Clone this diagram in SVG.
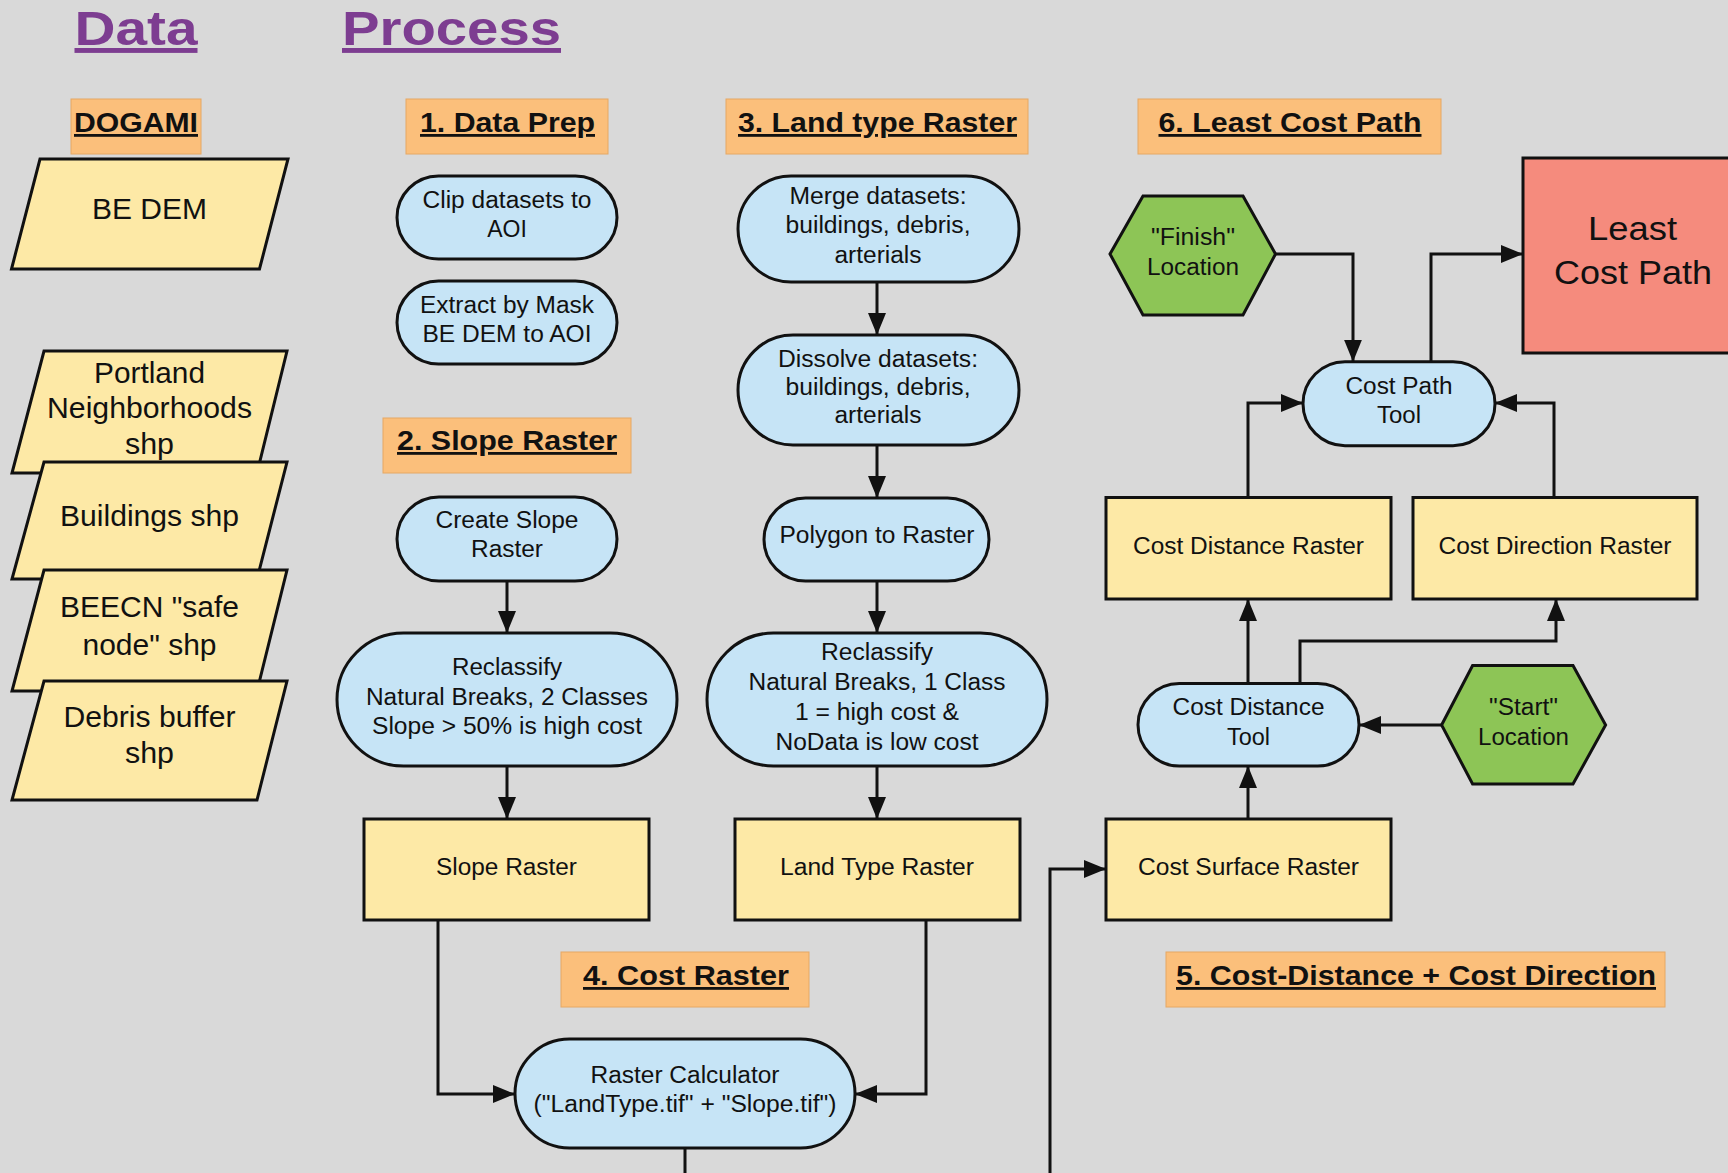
<svg xmlns="http://www.w3.org/2000/svg" width="1728" height="1173" viewBox="0 0 1728 1173">
<style>
.hdr{fill:#fbbf7b;stroke:#e6a864;stroke-width:1}
.data{fill:#fde9a6;stroke:#111;stroke-width:3}
.proc{fill:#c6e4f6;stroke:#111;stroke-width:3}
.hex{fill:#8dc556;stroke:#111;stroke-width:3}
.out{fill:#f58b7d;stroke:#111;stroke-width:3}
text{font-family:"Liberation Sans",Arial,sans-serif;fill:#111;text-anchor:middle}
.title{font-size:49px;font-weight:bold;fill:#7d3d91;text-decoration:underline}
.th{font-size:28px;font-weight:bold;text-decoration:underline}
.t{font-size:23px}
.td{font-size:29px}
.tb{font-size:33px}
.conn path{fill:none;stroke:#111;stroke-width:3;marker-end:url(#arr)}
</style>
<defs>
<marker id="arr" markerUnits="userSpaceOnUse" markerWidth="22" markerHeight="18" refX="22" refY="9" orient="auto">
<path d="M0,0 L22,9 L0,18 z" fill="#111"/>
</marker>
</defs>
<rect width="1728" height="1173" fill="#d9d9d9"/>

<g id="titles">
<text class="title" x="136" y="45" textLength="123" lengthAdjust="spacingAndGlyphs">Data</text>
<text class="title" x="451.5" y="45" textLength="219" lengthAdjust="spacingAndGlyphs">Process</text>
</g>

<g id="hdr-dogami"><rect class="hdr" x="71" y="99" width="130" height="55"/><text class="th" x="136" y="132" textLength="124" lengthAdjust="spacingAndGlyphs">DOGAMI</text></g>
<g id="hdr-1"><rect class="hdr" x="406" y="99" width="202" height="55"/><text class="th" x="507.5" y="132" textLength="175" lengthAdjust="spacingAndGlyphs">1. Data Prep</text></g>
<g id="hdr-3"><rect class="hdr" x="726" y="99" width="302" height="55"/><text class="th" x="877.5" y="132" textLength="279" lengthAdjust="spacingAndGlyphs">3. Land type Raster</text></g>
<g id="hdr-6"><rect class="hdr" x="1138" y="99" width="303" height="55"/><text class="th" x="1290" y="132" textLength="263" lengthAdjust="spacingAndGlyphs">6. Least Cost Path</text></g>
<g id="hdr-2"><rect class="hdr" x="383" y="418" width="248" height="55"/><text class="th" x="507" y="450" textLength="220" lengthAdjust="spacingAndGlyphs">2. Slope Raster</text></g>
<g id="hdr-4"><rect class="hdr" x="561" y="952" width="248" height="55"/><text class="th" x="686" y="985" textLength="206" lengthAdjust="spacingAndGlyphs">4. Cost Raster</text></g>
<g id="hdr-5"><rect class="hdr" x="1166" y="952" width="499" height="55"/><text class="th" x="1416" y="985" textLength="480" lengthAdjust="spacingAndGlyphs">5. Cost-Distance + Cost Direction</text></g>

<g id="be-dem"><polygon class="data" points="40,159 288,159 259.5,269 11.5,269"/><text class="td" x="149.5" y="219" textLength="115" lengthAdjust="spacingAndGlyphs">BE DEM</text></g>
<g id="portland"><polygon class="data" points="44,351 287,351 257,473 12,473"/><text class="td" x="149.5" y="383" textLength="111" lengthAdjust="spacingAndGlyphs">Portland</text><text class="td" x="149.5" y="418" textLength="205" lengthAdjust="spacingAndGlyphs">Neighborhoods</text><text class="td" x="149.5" y="454" textLength="49" lengthAdjust="spacingAndGlyphs">shp</text></g>
<g id="buildings"><polygon class="data" points="44,462 287,462 257,579 12,579"/><text class="td" x="149.5" y="526" textLength="179" lengthAdjust="spacingAndGlyphs">Buildings shp</text></g>
<g id="beecn"><polygon class="data" points="44,570 287,570 257,691 12,691"/><text class="td" x="149.5" y="617" textLength="179" lengthAdjust="spacingAndGlyphs">BEECN "safe</text><text class="td" x="149.5" y="655" textLength="134" lengthAdjust="spacingAndGlyphs">node" shp</text></g>
<g id="debris"><polygon class="data" points="44,681 287,681 257,800 12,800"/><text class="td" x="149.5" y="727" textLength="172" lengthAdjust="spacingAndGlyphs">Debris buffer</text><text class="td" x="149.5" y="763" textLength="49" lengthAdjust="spacingAndGlyphs">shp</text></g>

<g id="clip"><rect class="proc" x="397" y="176" width="220" height="83" rx="41.5"/><text class="t" x="507" y="208" textLength="169" lengthAdjust="spacingAndGlyphs">Clip datasets to</text><text class="t" x="507" y="237">AOI</text></g>
<g id="extract"><rect class="proc" x="397" y="281" width="220" height="83" rx="41.5"/><text class="t" x="507" y="313" textLength="174" lengthAdjust="spacingAndGlyphs">Extract by Mask</text><text class="t" x="507" y="342" textLength="169" lengthAdjust="spacingAndGlyphs">BE DEM to AOI</text></g>
<g id="create-slope"><rect class="proc" x="397" y="497" width="220" height="84" rx="42"/><text class="t" x="507" y="528" textLength="143" lengthAdjust="spacingAndGlyphs">Create Slope</text><text class="t" x="507" y="557" textLength="72" lengthAdjust="spacingAndGlyphs">Raster</text></g>
<g id="reclass-slope"><rect class="proc" x="337" y="633" width="340" height="133" rx="66.5"/><text class="t" x="507" y="675" textLength="110" lengthAdjust="spacingAndGlyphs">Reclassify</text><text class="t" x="507" y="705" textLength="282" lengthAdjust="spacingAndGlyphs">Natural Breaks, 2 Classes</text><text class="t" x="507" y="734" textLength="270" lengthAdjust="spacingAndGlyphs">Slope &gt; 50% is high cost</text></g>
<g id="slope-raster"><rect class="data" x="364" y="819" width="285" height="101"/><text class="t" x="506.5" y="875" textLength="141" lengthAdjust="spacingAndGlyphs">Slope Raster</text></g>

<g id="merge"><rect class="proc" x="738" y="176" width="281" height="106" rx="53"/><text class="t" x="878" y="204" textLength="177" lengthAdjust="spacingAndGlyphs">Merge datasets:</text><text class="t" x="878" y="233" textLength="185" lengthAdjust="spacingAndGlyphs">buildings, debris,</text><text class="t" x="878" y="263" textLength="87" lengthAdjust="spacingAndGlyphs">arterials</text></g>
<g id="dissolve"><rect class="proc" x="738" y="335" width="281" height="110" rx="55"/><text class="t" x="878" y="367" textLength="200" lengthAdjust="spacingAndGlyphs">Dissolve datasets:</text><text class="t" x="878" y="395" textLength="185" lengthAdjust="spacingAndGlyphs">buildings, debris,</text><text class="t" x="878" y="423" textLength="87" lengthAdjust="spacingAndGlyphs">arterials</text></g>
<g id="polygon"><rect class="proc" x="764" y="498" width="225" height="83" rx="41.5"/><text class="t" x="877" y="543" textLength="195" lengthAdjust="spacingAndGlyphs">Polygon to Raster</text></g>
<g id="reclass-land"><rect class="proc" x="707" y="633" width="340" height="133" rx="66.5"/><text class="t" x="877" y="660" textLength="112" lengthAdjust="spacingAndGlyphs">Reclassify</text><text class="t" x="877" y="690" textLength="257" lengthAdjust="spacingAndGlyphs">Natural Breaks, 1 Class</text><text class="t" x="877" y="720" textLength="164" lengthAdjust="spacingAndGlyphs">1 = high cost &amp;</text><text class="t" x="877" y="750" textLength="203" lengthAdjust="spacingAndGlyphs">NoData is low cost</text></g>
<g id="land-raster"><rect class="data" x="735" y="819" width="285" height="101"/><text class="t" x="877" y="875" textLength="194" lengthAdjust="spacingAndGlyphs">Land Type Raster</text></g>

<g id="raster-calc"><rect class="proc" x="515" y="1039" width="340" height="109" rx="54.5"/><text class="t" x="685" y="1083" textLength="189" lengthAdjust="spacingAndGlyphs">Raster Calculator</text><text class="t" x="685" y="1112" textLength="303" lengthAdjust="spacingAndGlyphs">("LandType.tif" + "Slope.tif")</text></g>

<g id="cost-surface"><rect class="data" x="1106" y="819" width="285" height="101"/><text class="t" x="1248.5" y="875" textLength="221" lengthAdjust="spacingAndGlyphs">Cost Surface Raster</text></g>
<g id="cd-tool"><rect class="proc" x="1138" y="683.5" width="221" height="82.5" rx="41.25"/><text class="t" x="1248.5" y="715" textLength="152" lengthAdjust="spacingAndGlyphs">Cost Distance</text><text class="t" x="1248.5" y="744.5" textLength="43" lengthAdjust="spacingAndGlyphs">Tool</text></g>
<g id="start"><polygon class="hex" points="1441.6,725 1472.6,665.6 1573,665.6 1605.6,725 1573,784 1472.6,784"/><text class="t" x="1523.5" y="715" textLength="69" lengthAdjust="spacingAndGlyphs">"Start"</text><text class="t" x="1523.5" y="744.5" textLength="91" lengthAdjust="spacingAndGlyphs">Location</text></g>
<g id="cd-raster"><rect class="data" x="1106" y="497.5" width="285" height="101.5"/><text class="t" x="1248.5" y="554" textLength="231" lengthAdjust="spacingAndGlyphs">Cost Distance Raster</text></g>
<g id="cdir-raster"><rect class="data" x="1413" y="497.5" width="284" height="101.5"/><text class="t" x="1555" y="554" textLength="233" lengthAdjust="spacingAndGlyphs">Cost Direction Raster</text></g>
<g id="cp-tool"><rect class="proc" x="1303" y="361.7" width="192" height="84" rx="42"/><text class="t" x="1399" y="394" textLength="107" lengthAdjust="spacingAndGlyphs">Cost Path</text><text class="t" x="1399" y="423" textLength="44" lengthAdjust="spacingAndGlyphs">Tool</text></g>
<g id="finish"><polygon class="hex" points="1110,254 1143,196 1243,196 1275.5,254 1243,315 1143,315"/><text class="t" x="1193" y="245" textLength="84" lengthAdjust="spacingAndGlyphs">"Finish"</text><text class="t" x="1193" y="275" textLength="92" lengthAdjust="spacingAndGlyphs">Location</text></g>
<g id="least-cost-path"><rect class="out" x="1523" y="158" width="225" height="195"/><text class="tb" x="1632.5" y="240" textLength="89" lengthAdjust="spacingAndGlyphs">Least</text><text class="tb" x="1633" y="284" textLength="158" lengthAdjust="spacingAndGlyphs">Cost Path</text></g>

<g id="connectors" class="conn">
<path d="M507,581 V633"/>
<path d="M507,766 V819"/>
<path d="M877,282 V335"/>
<path d="M877,445 V498"/>
<path d="M877,581 V633"/>
<path d="M877,766 V819"/>
<path d="M438,920 V1094 H515"/>
<path d="M926,920 V1094 H855"/>
<path d="M685,1148 V1200 H1050 V869 H1106"/>
<path d="M1248,819 V766"/>
<path d="M1441.6,725 H1359"/>
<path d="M1248,683.5 V599"/>
<path d="M1300,683.5 V641 H1556 V599"/>
<path d="M1248,497.5 V403 H1303"/>
<path d="M1554,497.5 V403 H1495"/>
<path d="M1275.5,254 H1353 V361.7"/>
<path d="M1431,361.7 V254 H1523"/>
</g>
</svg>
